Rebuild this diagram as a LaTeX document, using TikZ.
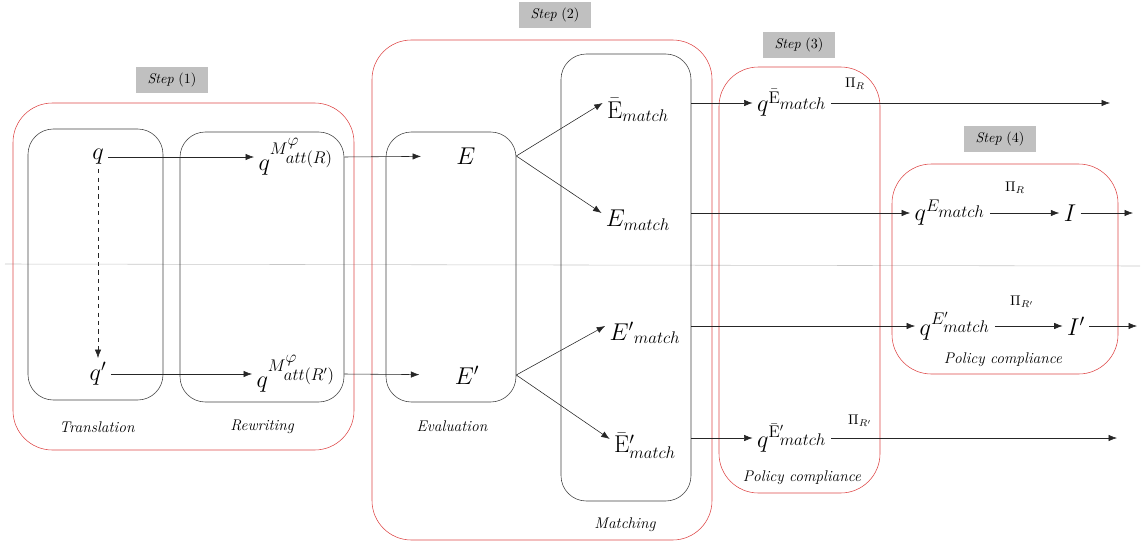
\documentclass[tikz,border=0pt]{standalone}
\usetikzlibrary{arrows.meta,fit}

\definecolor{stepred}{RGB}{222,72,72}
\definecolor{stepgray}{RGB}{192,192,192}
\tikzset{
  redbox/.style={draw=stepred, rounded corners=28pt, inner sep=0pt},
  blackbox/.style={draw=black!75, rounded corners=18pt, inner sep=0pt},
  steplbl/.style={fill=stepgray, minimum width=1.8cm, minimum height=0.64cm},
  caption/.style={font=\fontsize{11}{13}\selectfont\itshape},
  sym/.style={font=\fontsize{16.5}{20}\selectfont, inner sep=3pt},
  pilbl/.style={inner sep=1pt},
  arr/.style={-{Latex[length=6pt,width=4.5pt]}, black!85},
}

\begin{document}
\begin{tikzpicture}[x=0.025cm, y=-0.025cm]
    \useasboundingbox (0,0) rectangle (1143,545);
    \draw[black!22] (5,264) -- (1140,266);

    % step labels
    \node[steplbl] (s1) at (172,80) {\textit{Step} (1)};
    \node[steplbl] (s2) at (555,15) {\textit{Step} (2)};
    \node[steplbl] (s3) at (799,45) {\textit{Step} (3)};
    \node[steplbl] (s4) at (1000,139) {\textit{Step} (4)};

    % frames
    \node[redbox, fit={(13,103) (354,450)}] (step1) {};
    \node[redbox, fit={(372,40) (712,540)}] (step2) {};
    \node[redbox, fit={(719,67) (880,493)}] (step3) {};
    \node[redbox, fit={(892,164) (1118,374)}] (step4) {};
    \node[blackbox, fit={(28,129) (163,400)}] (trans) {};
    \node[blackbox, fit={(180,132) (344,402)}] (rewr) {};
    \node[blackbox, fit={(386,132) (516,402)}] (eval) {};
    \node[blackbox, fit={(561,54) (691,501)}] (match) {};

    % captions
    \node[caption] (tlbl) at (97,427) {Translation};
    \node[caption] (rlbl) at (262,427) {Rewriting};
    \node[caption] (elbl) at (452,426) {Evaluation};
    \node[caption] (mlbl) at (625,525) {Matching};
    \node[caption] (p3lbl) at (802,478) {Policy compliance};
    \node[caption] (p4lbl) at (1003,360) {Policy compliance};

    % queries
    \node[sym] (q) at (98,157) {$q$};
    \node[sym] (qp) at (98,374) {$q'$};
    \node[sym] (qM) at (296,157) {$q^{M^{\scriptstyle\varphi}_{\scriptstyle att(R)}}$};
    \node[sym] (qMp) at (296,374) {$q^{M^{\scriptstyle\varphi}_{\scriptstyle att(R')}}$};

    % results
    \node[sym] (E) at (466,156) {$E$};
    \node[sym] (Ep) at (467,375) {$E'$};
    \node[sym] (Ebm) at (638,110) {$\bar{\mathrm{E}}_{match}$};
    \node[sym] (Em) at (638,220) {$E_{match}$};
    \node[sym] (Epm) at (645,333) {${E'}_{match}$};
    \node[sym] (Ebpm) at (645,446) {${\bar{\mathrm{E}}'}_{match}$};

    % policies
    \node[sym] (qEb) at (792,103) {$q^{\bar{\mathrm{E}}_{\scriptstyle match}}$};
    \node[sym] (qEm) at (950,213) {$q^{E_{\scriptstyle match}}$};
    \node[sym] (I) at (1070,213) {$I$};
    \node[sym] (qEpm) at (955,326) {$q^{E'_{\scriptstyle match}}$};
    \node[sym] (Ip) at (1076,326) {$I'$};
    \node[sym] (qEbpm) at (792,438) {$q^{\bar{\mathrm{E}}'_{\scriptstyle match}}$};
    \node[pilbl] (pi1) at (855,84) {$\Pi_R$};
    \node[pilbl] (pi2) at (1015,188) {$\Pi_R$};
    \node[pilbl] (pi3) at (1022,302) {$\Pi_{R'}$};
    \node[pilbl] (pi4) at (860,421) {$\Pi_{R'}$};
    \coordinate (out1) at (1110,103);
    \coordinate (out2) at (1133,213);
    \coordinate (out3) at (1137,326);
    \coordinate (out4) at (1117,438);

    % arrows
    \draw[arr, dashed] (q) -- (qp);
    \draw[arr] (q) -- (qM);
    \draw[arr] (qp) -- (qMp);
    \draw[arr, shorten >=22pt] (rewr.east |- qM) -- (E);
    \draw[arr, shorten >=22pt] (rewr.east |- qMp) -- (Ep);
    \draw[arr] (eval.east |- E) -- ([yshift=5pt]Ebm.west);
    \draw[arr] (eval.east |- E) -- ([yshift=5pt]Em.west);
    \draw[arr] (eval.east |- Ep) -- ([yshift=5pt]Epm.west);
    \draw[arr] (eval.east |- Ep) -- ([yshift=5pt]Ebpm.west);
    \draw[arr] (match.east |- qEb) -- (qEb);
    \draw[arr] (match.east |- qEm) -- (qEm);
    \draw[arr] (match.east |- qEpm) -- (qEpm);
    \draw[arr] (match.east |- qEbpm) -- (qEbpm);
    \draw[arr] (qEb) -- (out1);
    \draw[arr] (qEbpm) -- (out4);
    \draw[arr] (qEm) -- (I);
    \draw[arr] (I) -- (out2);
    \draw[arr] (qEpm) -- (Ip);
    \draw[arr] (Ip) -- (out3);
\end{tikzpicture}
\end{document}
